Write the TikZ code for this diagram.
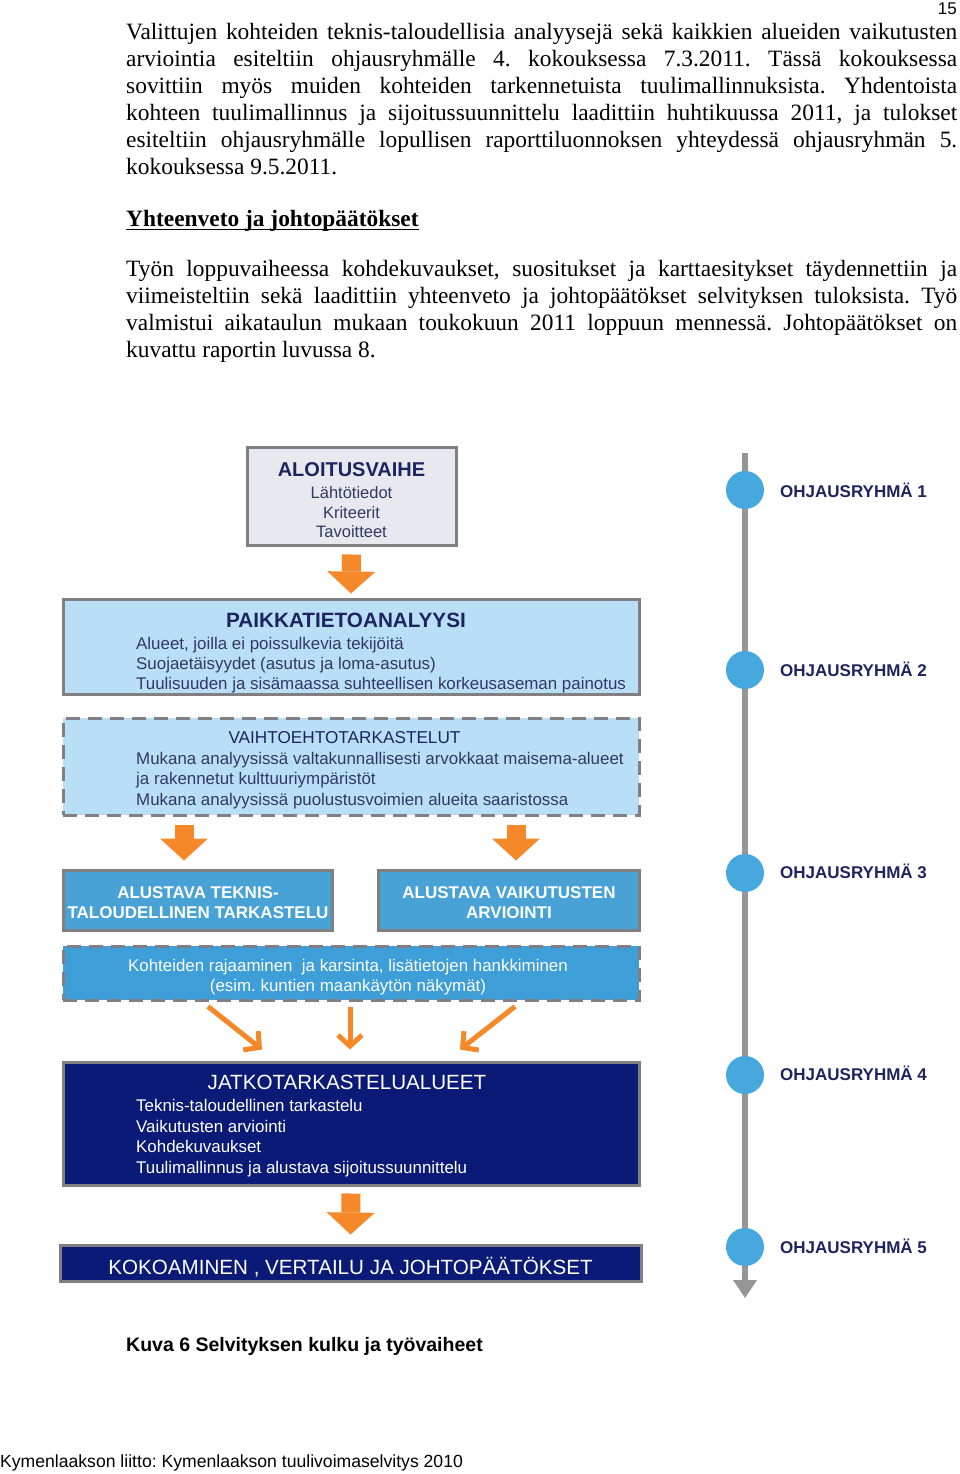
\documentclass[tikz,border=0pt]{standalone}
\usepackage{fontspec}
\setmainfont{Liberation Serif}
\newfontfamily\arialf{Liberation Sans}
\usetikzlibrary{arrows.meta}
\frenchspacing
\definecolor{orng}{RGB}{245,136,40}
\definecolor{lblue}{RGB}{184,223,245}
\definecolor{mblue}{RGB}{72,162,214}
\definecolor{kblue}{RGB}{62,158,216}
\definecolor{navy}{RGB}{10,26,118}
\definecolor{bgray}{RGB}{128,128,132}
\definecolor{lgray}{RGB}{232,233,238}
\definecolor{ntext}{RGB}{30,36,96}
\definecolor{stext}{RGB}{52,56,100}
\definecolor{cblue}{RGB}{70,168,220}
\definecolor{tlgray}{RGB}{150,150,150}
\tikzset{
  pline/.style={anchor=base west, inner sep=0pt, font=\fontsize{23.4}{27}\selectfont},
  boxsolid/.style={draw=bgray, line width=3pt, inner sep=0pt},
  boxdash/.style={draw=bgray, line width=3pt, inner sep=0pt, dash pattern=on 14pt off 8pt},
  ttl/.style={anchor=base, inner sep=0pt, font=\arialf\bfseries\fontsize{20.7}{24}\selectfont, text=ntext},
  lft/.style={anchor=base west, inner sep=0pt, font=\arialf\fontsize{16.9}{20}\selectfont, text=stext},
  ctr/.style={anchor=base, inner sep=0pt, font=\arialf\fontsize{16.5}{20}\selectfont, text=stext},
  blockarrow/.style={draw=orng, line width=19pt, -{Triangle[length=22pt,width=48pt,line width=0pt]}},
  thinarrow/.style={draw=orng, line width=5pt, -{Straight Barb[length=11pt,width=24pt]}},
  milestone/.style={circle, fill=cblue, minimum size=38pt, inner sep=0pt},
  mslabel/.style={anchor=base west, inner sep=0pt, font=\arialf\bfseries\fontsize{17}{20}\selectfont, text=ntext}
}
\begin{document}
\begin{tikzpicture}[x=1pt,y=-1pt]
\useasboundingbox (0,0) rectangle (960,1474);
\fill[white] (0,0) rectangle (960,1474);

% page number
\node[anchor=base east, inner sep=0pt, font=\arialf\fontsize{17}{20}\selectfont] (pnum) at (957,15) {15};

% paragraph 1
\node[pline] (p1) at (126,40) {\makebox[831pt][s]{Valittujen kohteiden teknis-taloudellisia analyysejä sekä kaikkien alueiden vaikutusten}};
\node[pline] (p2) at (126,67) {\makebox[831pt][s]{arviointia esiteltiin ohjausryhmälle 4. kokouksessa 7.3.2011. Tässä kokouksessa}};
\node[pline] (p3) at (126,94) {\makebox[831pt][s]{sovittiin myös muiden kohteiden tarkennetuista tuulimallinnuksista. Yhdentoista}};
\node[pline] (p4) at (126,121) {\makebox[831pt][s]{kohteen tuulimallinnus ja sijoitussuunnittelu laadittiin huhtikuussa 2011, ja tulokset}};
\node[pline] (p5) at (126,148) {\makebox[831pt][s]{esiteltiin ohjausryhmälle lopullisen raporttiluonnoksen yhteydessä ohjausryhmän 5.}};
\node[pline] (p6) at (126,175) {kokouksessa 9.5.2011.};

% heading
\node[pline] (hd) at (126,226) {\bfseries Yhteenveto ja johtopäätökset};
\draw[line width=1.5pt] ([yshift=-3.5pt]hd.base west) -- ([yshift=-3.5pt]hd.base east);

% paragraph 2
\node[pline] (q1) at (126,276) {\makebox[831pt][s]{Työn loppuvaiheessa kohdekuvaukset, suositukset ja karttaesitykset täydennettiin ja}};
\node[pline] (q2) at (126,303) {\makebox[831pt][s]{viimeisteltiin sekä laadittiin yhteenveto ja johtopäätökset selvityksen tuloksista. Työ}};
\node[pline] (q3) at (126,330) {\makebox[831pt][s]{valmistui aikataulun mukaan toukokuun 2011 loppuun mennessä. Johtopäätökset on}};
\node[pline] (q4) at (126,357) {kuvattu raportin luvussa 8.};

% ---------- diagram boxes ----------
\node[boxsolid, fill=lgray, minimum width=209pt, minimum height=98pt] (aloit) at (351.5,496) {};
\node[ttl, font=\arialf\bfseries\fontsize{20}{24}\selectfont] (aloitT) at (351.5,476) {ALOITUSVAIHE};
\node[ctr] (aloit1) at (351.5,498) {Lähtötiedot};
\node[ctr] (aloit2) at (351.5,518) {Kriteerit};
\node[ctr] (aloit3) at (351.5,537.5) {Tavoitteet};

\node[boxsolid, fill=lblue, minimum width=576pt, minimum height=95pt] (paikka) at (351,646.5) {};
\node[ttl] (paikkaT) at (346,627) {PAIKKATIETOANALYYSI};
\node[lft] (paikka1) at (136,649) {Alueet, joilla ei poissulkevia tekijöitä};
\node[lft] (paikka2) at (136,669) {Suojaetäisyydet (asutus ja loma-asutus)};
\node[lft] (paikka3) at (136,689) {Tuulisuuden ja sisämaassa suhteellisen korkeusaseman painotus};

\node[boxdash, fill=lblue, minimum width=576pt, minimum height=97pt] (vaiht) at (351,766.5) {};
\node[ttl, font=\arialf\fontsize{17.2}{20}\selectfont] (vaihtT) at (344.5,743) {VAIHTOEHTOTARKASTELUT};
\node[lft] (vaiht1) at (136,764) {Mukana analyysissä valtakunnallisesti arvokkaat maisema-alueet};
\node[lft] (vaiht2) at (136,784) {ja rakennetut kulttuuriympäristöt};
\node[lft] (vaiht3) at (136,805) {Mukana analyysissä puolustusvoimien alueita saaristossa};

\node[boxsolid, fill=mblue, minimum width=269pt, minimum height=60pt] (tekn) at (197.5,900) {};
\node[ttl, text=white, font=\arialf\bfseries\fontsize{17}{20}\selectfont] (tekn1) at (198,898) {ALUSTAVA TEKNIS-};
\node[ttl, text=white, font=\arialf\bfseries\fontsize{17}{20}\selectfont] (tekn2) at (198,918) {TALOUDELLINEN TARKASTELU};

\node[boxsolid, fill=mblue, minimum width=261pt, minimum height=60pt] (vaik) at (508.5,900) {};
\node[ttl, text=white, font=\arialf\bfseries\fontsize{17}{20}\selectfont] (vaik1) at (509,898) {ALUSTAVA VAIKUTUSTEN};
\node[ttl, text=white, font=\arialf\bfseries\fontsize{17}{20}\selectfont] (vaik2) at (509,918) {ARVIOINTI};

\node[boxdash, fill=kblue, minimum width=576pt, minimum height=54pt] (kohd) at (351,973) {};
\node[ctr, text=white, font=\arialf\fontsize{16.9}{19}\selectfont] (kohd1) at (348,971.5) {Kohteiden rajaaminen\ \ ja karsinta, lisätietojen hankkiminen};
\node[ctr, text=white, font=\arialf\fontsize{16.9}{19}\selectfont] (kohd2) at (348,991.5) {(esim. kuntien maankäytön näkymät)};

\node[boxsolid, fill=navy, minimum width=576pt, minimum height=123pt] (jatko) at (351,1123.5) {};
\node[ttl, text=white, font=\arialf\fontsize{20.6}{24}\selectfont] (jatkoT) at (347,1089) {JATKOTARKASTELUALUEET};
\node[lft, text=white] (jatko1) at (136,1111) {Teknis-taloudellinen tarkastelu};
\node[lft, text=white] (jatko2) at (136,1132) {Vaikutusten arviointi};
\node[lft, text=white] (jatko3) at (136,1152) {Kohdekuvaukset};
\node[lft, text=white] (jatko4) at (136,1173) {Tuulimallinnus ja alustava sijoitussuunnittelu};

\node[boxsolid, fill=navy, minimum width=581pt, minimum height=36pt] (kokoa) at (350.5,1263) {};
\node[ttl, text=white, font=\arialf\fontsize{20.6}{24}\selectfont] (kokoaT) at (350.5,1274.5) {KOKOAMINEN , VERTAILU JA JOHTOPÄÄTÖKSET};

% ---------- arrows ----------
\draw[blockarrow] ([yshift=-8pt]aloit.south) -- ([yshift=4pt]paikka.north);
\draw[blockarrow] ([xshift=-167pt,yshift=-8pt]vaiht.south) -- ([xshift=-13.5pt,yshift=8pt]tekn.north);
\draw[blockarrow] ([xshift=165pt,yshift=-8pt]vaiht.south) -- ([xshift=7.5pt,yshift=8pt]vaik.north);
\draw[thinarrow] ([xshift=-143pt,yshift=-5pt]kohd.south) -- ([xshift=-89pt,yshift=11pt]jatko.north);
\draw[thinarrow] ([xshift=-1pt,yshift=-5pt]kohd.south) -- ([xshift=-1pt,yshift=11pt]jatko.north);
\draw[thinarrow] ([xshift=164pt,yshift=-5pt]kohd.south) -- ([xshift=109pt,yshift=11pt]jatko.north);
\draw[blockarrow] ([yshift=-7pt]jatko.south) -- ([yshift=9pt]kokoa.north);

% ---------- timeline ----------
\coordinate (tltop) at (745,453);
\coordinate (tlbot) at (745,1298);
\draw[tlgray, line width=6pt, -{Triangle[length=18pt,width=24pt,line width=0pt]}] (tltop) -- (tlbot);
\node[milestone] (m1) at (745,490) {};
\node[milestone] (m2) at (745,670) {};
\node[milestone] (m3) at (745,873) {};
\node[milestone] (m4) at (745,1075) {};
\node[milestone] (m5) at (745,1247) {};
\node[mslabel] (l1) at (780,497) {OHJAUSRYHMÄ 1};
\node[mslabel] (l2) at (780,676) {OHJAUSRYHMÄ 2};
\node[mslabel] (l3) at (780,878) {OHJAUSRYHMÄ 3};
\node[mslabel] (l4) at (780,1080) {OHJAUSRYHMÄ 4};
\node[mslabel] (l5) at (780,1253) {OHJAUSRYHMÄ 5};

% caption and footer
\node[anchor=base west, inner sep=0pt, font=\arialf\bfseries\fontsize{19.5}{22}\selectfont] (cap) at (126,1351) {Kuva 6 Selvityksen kulku ja työvaiheet};
\node[anchor=base west, inner sep=0pt, font=\arialf\fontsize{17.6}{20}\selectfont] (foot) at (0,1467) {Kymenlaakson liitto: Kymenlaakson tuulivoimaselvitys 2010};
\end{tikzpicture}
\end{document}
